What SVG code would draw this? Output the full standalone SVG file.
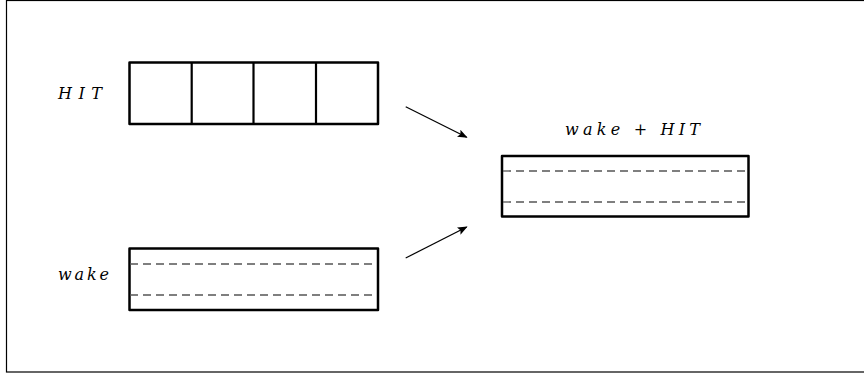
<svg xmlns="http://www.w3.org/2000/svg" width="864" height="376" viewBox="0 0 864 376">
<style>
.box{fill:none;stroke:#000;stroke-width:2.5;stroke-linejoin:round}
.div{stroke:#000;stroke-width:2.2}
.dash{stroke:#555;stroke-width:1.3;stroke-dasharray:8,5}
.lbl{font-family:"DejaVu Serif","Liberation Serif",serif;font-style:italic;font-size:16px;fill:#000}
.arr{stroke:#000;stroke-width:1.2;fill:none;marker-end:url(#ah)}
</style>
<defs>
<marker id="ah" viewBox="0 0 10 10" refX="9" refY="5" markerWidth="10" markerHeight="10" markerUnits="userSpaceOnUse" orient="auto">
<path d="M0,1 L10,5 L0,9 L2,5 Z" fill="#000"/>
</marker>
</defs>
<rect x="6.5" y="0.5" width="870" height="371.5" fill="none" stroke="#000" stroke-width="1.2"/>
<g id="hit">
<rect class="box" x="129.5" y="62.5" width="248.5" height="61.5"/>
<line class="div" x1="191.7" y1="62.5" x2="191.7" y2="124"/>
<line class="div" x1="253.5" y1="62.5" x2="253.5" y2="124"/>
<line class="div" x1="316" y1="62.5" x2="316" y2="124"/>
<text class="lbl" x="58" y="99" textLength="44" lengthAdjust="spacing">HIT</text>
</g>
<g id="wake">
<rect class="box" x="129.5" y="248.5" width="248.5" height="61.5"/>
<line class="dash" x1="130" y1="264" x2="377" y2="264"/>
<line class="dash" x1="130" y1="295" x2="377" y2="295"/>
<text class="lbl" x="58" y="280" textLength="51" lengthAdjust="spacing">wake</text>
</g>
<g id="sum">
<rect class="box" x="502" y="156" width="246.5" height="60.5"/>
<line class="dash" x1="503" y1="171" x2="748" y2="171"/>
<line class="dash" x1="503" y1="202" x2="748" y2="202"/>
<text class="lbl" x="565" y="135" textLength="135" lengthAdjust="spacing">wake + HIT</text>
</g>
<g id="connectors">
<line class="arr" x1="405.7" y1="106.7" x2="466.7" y2="137.3"/>
<line class="arr" x1="405.7" y1="258" x2="466.7" y2="227"/>
</g>
</svg>
